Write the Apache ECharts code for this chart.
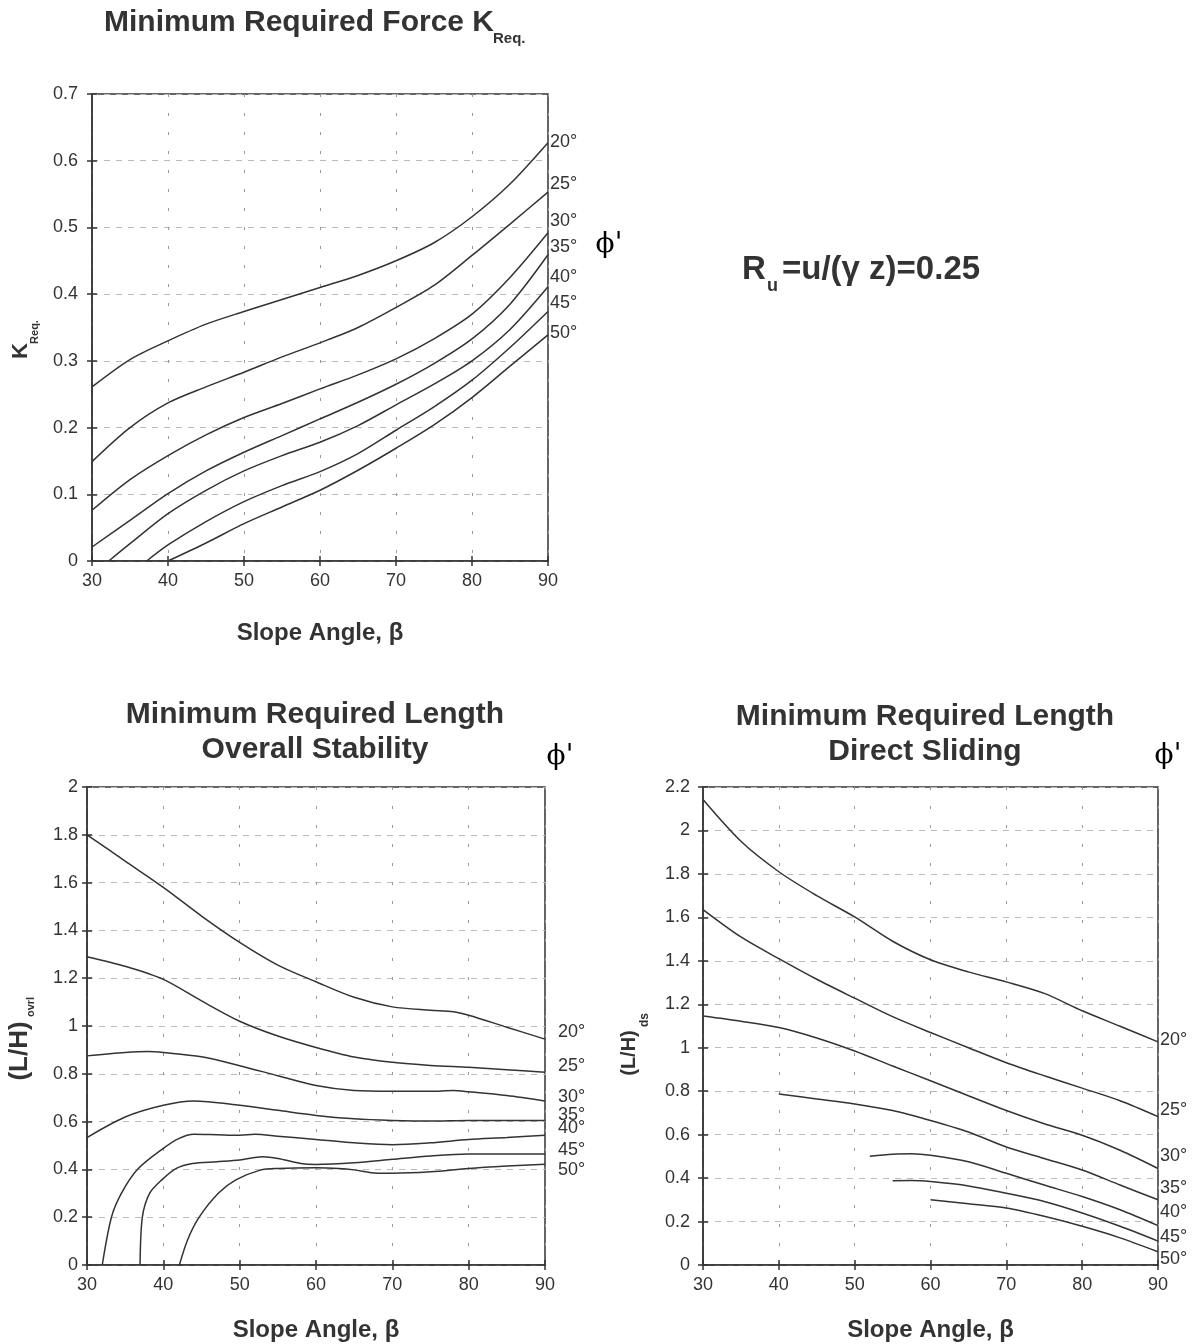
<!DOCTYPE html>
<html><head><meta charset="utf-8">
<script src="https://cdn.jsdelivr.net/npm/echarts@6/dist/echarts.min.js"></script>
<style>html,body{margin:0;padding:0;background:#fff}#c{width:1194px;height:1344px}</style>
</head><body><div id="c"></div>
<script>
// ---------- data ----------
const phiLabels = ['20°','25°','30°','35°','40°','45°','50°'];
const xMin = 30, xMax = 90, xStep = 10;

// Minimum Required Force K_Req. (x = slope angle, y = K)
const kReq20 = [[30,0.261],[35,0.302],[40,0.33],[45,0.355],[50,0.374],[55,0.392],[60,0.41],[65,0.428],[70,0.45],[75,0.477],[80,0.516],[85,0.565],[90,0.627]];
const kReq25 = [[30,0.149],[35,0.2],[40,0.237],[45,0.261],[50,0.283],[55,0.306],[60,0.327],[65,0.35],[70,0.38],[75,0.413],[80,0.458],[85,0.505],[90,0.553]];
const kReq30 = [[30,0.076],[35,0.122],[40,0.158],[45,0.189],[50,0.215],[55,0.236],[60,0.258],[65,0.279],[70,0.303],[75,0.333],[80,0.37],[85,0.425],[90,0.492]];
const kReq35 = [[30,0.021],[35,0.061],[40,0.101],[45,0.135],[50,0.163],[55,0.188],[60,0.213],[65,0.238],[70,0.265],[75,0.296],[80,0.333],[85,0.385],[90,0.459]];
const kReq40 = [[32.2,0],[35,0.026],[40,0.071],[45,0.106],[50,0.135],[55,0.158],[60,0.178],[65,0.203],[70,0.234],[75,0.265],[80,0.3],[85,0.347],[90,0.411]];
const kReq45 = [[37.2,0],[40,0.024],[45,0.059],[50,0.089],[55,0.113],[60,0.134],[65,0.161],[70,0.196],[75,0.231],[80,0.271],[85,0.32],[90,0.374]];
const kReq50 = [[40,0],[45,0.027],[50,0.056],[55,0.081],[60,0.106],[65,0.136],[70,0.169],[75,0.204],[80,0.245],[85,0.292],[90,0.339]];

// Minimum Required Length - Overall Stability (L/H)ovrl
const ovrl20 = [[30,1.8],[35,1.69],[40,1.58],[45,1.46],[50,1.35],[55,1.255],[60,1.185],[65,1.12],[70,1.08],[75,1.066],[78,1.06],[80,1.045],[85,0.995],[90,0.945]];
const ovrl25 = [[30,1.29],[35,1.25],[40,1.195],[45,1.105],[50,1.02],[55,0.958],[60,0.91],[65,0.87],[70,0.848],[75,0.835],[80,0.827],[85,0.817],[90,0.806]];
const ovrl30 = [[30,0.875],[35,0.889],[38,0.893],[40,0.889],[45,0.871],[50,0.834],[55,0.792],[60,0.751],[65,0.73],[70,0.727],[75,0.727],[78,0.73],[80,0.725],[85,0.709],[90,0.686]];
const ovrl35 = [[30,0.533],[35,0.619],[40,0.668],[44,0.686],[50,0.668],[55,0.647],[60,0.626],[65,0.612],[70,0.605],[75,0.602],[80,0.605],[85,0.605],[90,0.605]];
const ovrl40 = [[32,0],[33.2,0.2],[34.5,0.3],[36.6,0.4],[40,0.488],[42,0.529],[44,0.547],[47,0.545],[50,0.543],[52,0.547],[55,0.539],[60,0.525],[65,0.511],[70,0.503],[75,0.511],[80,0.525],[85,0.533],[90,0.543]];
const ovrl45 = [[36.95,0],[37.25,0.2],[38.2,0.3],[39.8,0.356],[41.7,0.404],[43.8,0.425],[47,0.432],[50,0.439],[53,0.453],[55,0.446],[58,0.425],[60,0.421],[65,0.428],[70,0.442],[75,0.456],[80,0.464],[85,0.464],[90,0.464]];
const ovrl50 = [[42.1,0],[43.2,0.107],[44.7,0.2],[47.2,0.3],[49.5,0.356],[52.7,0.397],[55,0.404],[60,0.407],[63,0.404],[65,0.398],[68,0.384],[70,0.384],[75,0.39],[80,0.404],[85,0.414],[90,0.422]];

// Minimum Required Length - Direct Sliding (L/H)ds
const ds20 = [[30,2.142],[35,1.95],[40,1.81],[45,1.7],[50,1.602],[55,1.49],[60,1.405],[65,1.349],[70,1.303],[75,1.25],[80,1.17],[85,1.099],[90,1.027]];
const ds25 = [[30,1.636],[35,1.51],[40,1.41],[45,1.315],[50,1.228],[55,1.143],[60,1.07],[65,1.0],[70,0.931],[75,0.871],[80,0.814],[85,0.756],[90,0.683]];
const ds30 = [[30,1.146],[35,1.122],[40,1.093],[45,1.045],[50,0.985],[55,0.916],[60,0.848],[65,0.779],[70,0.711],[75,0.65],[80,0.597],[85,0.528],[90,0.444]];
const ds35 = [[40,0.787],[45,0.764],[50,0.741],[55,0.711],[60,0.665],[65,0.612],[70,0.543],[75,0.49],[80,0.437],[85,0.368],[90,0.3]];
const ds40 = [[52,0.501],[55,0.51],[57.5,0.512],[60,0.505],[65,0.475],[70,0.422],[75,0.368],[80,0.315],[85,0.254],[90,0.181]];
const ds45 = [[55,0.388],[57.5,0.389],[60,0.384],[65,0.364],[70,0.33],[75,0.292],[80,0.239],[85,0.178],[90,0.11]];
const ds50 = [[60,0.3],[65,0.282],[70,0.262],[75,0.224],[80,0.178],[85,0.125],[90,0.061]];

const yKReq = {min:0, max:0.7, interval:0.1};
const yOvrl = {min:0, max:2, interval:0.2};
const yDs   = {min:0, max:2.2, interval:0.2};

// ---------- styling / layout ----------
const FONT = 'Liberation Sans';
const INK = '#333';
const grids = [
  {left:92, top:94, width:456, height:467},
  {left:87, top:787, width:458, height:478},
  {left:703, top:787, width:455, height:478}
];
const labelOffsets = [
  [-1,-8,-12,-8,-10,-8,-2],
  [-7,-6,-4,-5,-7,-4,6],
  [-2,-7,-12,-12,-14,-4,7]
];
const labelDist = [2, 13, 2];
const xNameGap = [60, 53, 53];
const yLabelMargin = [14, 9, 13];

const xAxes = [], yAxes = [];
grids.forEach((g, gi) => {
  const yr = [yKReq, yOvrl, yDs][gi];
  xAxes.push({
    type:'value', gridIndex:gi, min:xMin, max:xMax, interval:xStep, position:'bottom',
    name:'Slope Angle, β', nameLocation:'middle', nameGap:xNameGap[gi],
    nameTextStyle:{fontFamily:FONT, fontWeight:'bold', fontSize:24, color:INK},
    axisLine:{show:true, onZero:false, lineStyle:{color:INK, width:1.5}},
    axisTick:{show:true, length:5, lineStyle:{color:INK, width:1.5}},
    axisLabel:{fontFamily:FONT, fontSize:18, color:INK, margin:11},
    splitLine:{show:true, lineStyle:{color:'#999', type:[3,16], width:1}}
  });
  xAxes.push({
    type:'value', gridIndex:gi, min:xMin, max:xMax, interval:xStep, position:'bottom',
    axisLine:{show:false}, axisTick:{show:true, inside:true, length:5, lineStyle:{color:INK, width:1.5}},
    axisLabel:{show:false}, splitLine:{show:false}
  });
  yAxes.push({
    type:'value', gridIndex:gi, min:yr.min, max:yr.max, interval:yr.interval, position:'left',
    axisLine:{show:true, onZero:false, lineStyle:{color:INK, width:1.5}},
    axisTick:{show:true, length:5, lineStyle:{color:INK, width:1.5}},
    axisLabel:{fontFamily:FONT, fontSize:18, color:INK, margin:yLabelMargin[gi]},
    splitLine:{show:true, lineStyle:{color:'#bbb', type:[6,6], width:1}}
  });
  yAxes.push({
    type:'value', gridIndex:gi, min:yr.min, max:yr.max, interval:yr.interval, position:'left',
    axisLine:{show:false}, axisTick:{show:true, inside:true, length:5, lineStyle:{color:INK, width:1.5}},
    axisLabel:{show:false}, splitLine:{show:false}
  });
});

const seriesData = [
  [kReq20,kReq25,kReq30,kReq35,kReq40,kReq45,kReq50],
  [ovrl20,ovrl25,ovrl30,ovrl35,ovrl40,ovrl45,ovrl50],
  [ds20,ds25,ds30,ds35,ds40,ds45,ds50]
];
const series = [];
seriesData.forEach((group, gi) => {
  group.forEach((d, si) => {
    series.push({
      type:'line', xAxisIndex:gi*2, yAxisIndex:gi*2, data:d,
      symbol:'none', showSymbol:false, smooth:0.3,
      lineStyle:{color:INK, width:1.5}, silent:true,
      endLabel:{show:true, formatter:phiLabels[si], distance:labelDist[gi],
        offset:[0, labelOffsets[gi][si]], fontFamily:FONT, fontSize:18, color:INK}
    });
  });
});

function txt(x, y, text, font, extra) {
  return Object.assign({type:'text', x, y, silent:true, style:Object.assign({
    text, font, fill:INK, align:'center', verticalAlign:'middle',
    textAlign:'center', textVerticalAlign:'middle'}, (extra && extra.style) || {})},
    (extra && extra.el) || {});
}
const leftStyle = {align:'left', textAlign:'left'};
const R90 = {rotation: Math.PI/2};

const graphic = [
  txt(299, 23, 'Minimum Required Force K', `bold 30px "${FONT}"`),
  txt(493, 39, 'Req.', `bold 15px "${FONT}"`, {style:leftStyle}),
  txt(315, 715, 'Minimum Required Length', `bold 30px "${FONT}"`),
  txt(315, 750, 'Overall Stability', `bold 30px "${FONT}"`),
  txt(925, 717, 'Minimum Required Length', `bold 30px "${FONT}"`),
  txt(925, 752, 'Direct Sliding', `bold 30px "${FONT}"`),
  // y axis names (rotated)
  txt(21, 351, 'K', `bold 22px "${FONT}"`, {el:R90}),
  txt(35, 332, 'Req.', `bold 11px "${FONT}"`, {el:R90}),
  txt(20, 1051, '(L/H)', `bold 26px "${FONT}"`, {el:R90}),
  txt(31, 1007, 'ovrl', `bold 11px "${FONT}"`, {el:R90}),
  txt(629, 1053, '(L/H)', `bold 20px "${FONT}"`, {el:R90}),
  txt(645, 1020, 'ds', `bold 12px "${FONT}"`, {el:R90}),
  // phi' markers
  txt(609, 245, "ϕ'", '28px "DejaVu Serif"', {style:{fill:'#000'}}),
  txt(560, 757, "ϕ'", '28px "DejaVu Serif"', {style:{fill:'#000'}}),
  txt(1168, 756, "ϕ'", '28px "DejaVu Serif"', {style:{fill:'#000'}}),
  // Ru annotation
  txt(742, 270, 'R', 'bold 33px "Liberation Sans"', {style:leftStyle}),
  txt(767, 286, 'u', 'bold 18px "Liberation Sans"', {style:leftStyle}),
  txt(782, 270, '=u/(γ z)=0.25', 'bold 33px "Liberation Sans"', {style:leftStyle})
];

const chart = echarts.init(document.getElementById('c'), null, {renderer:'canvas'});
chart.setOption({
  animation:false,
  backgroundColor:'#fff',
  grid: grids.map(g => Object.assign({show:true, borderColor:INK, borderWidth:1.5, backgroundColor:'transparent', containLabel:false}, g)),
  xAxis: xAxes,
  yAxis: yAxes,
  series,
  graphic
});
</script></body></html>
